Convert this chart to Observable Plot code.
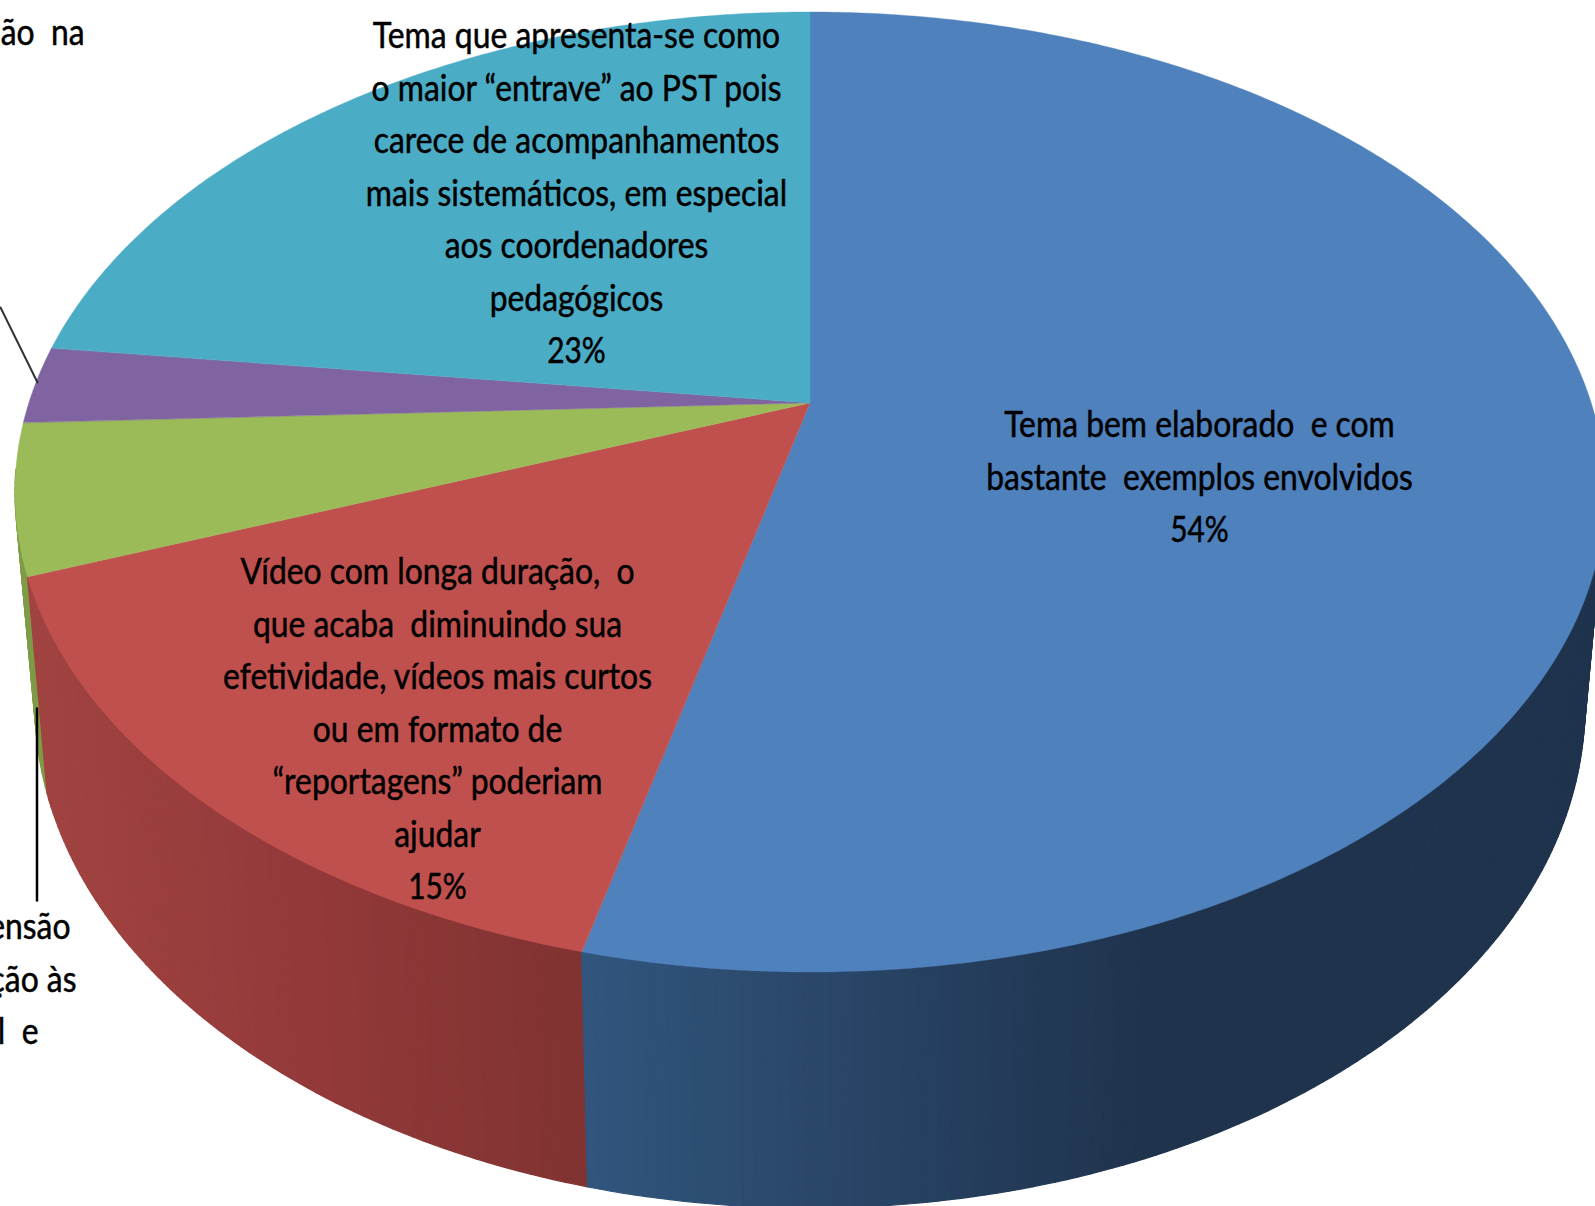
<!DOCTYPE html>
<html>
<head>
<meta charset="utf-8">
<style>html,body{margin:0;padding:0;background:#fff;overflow:hidden}</style>
<script src="https://cdn.jsdelivr.net/npm/d3@7"></script>
<script src="https://cdn.jsdelivr.net/npm/@observablehq/plot@0.6"></script>
</head>
<body>
<div id="chart"></div>
<script>
// Shares (clockwise from 12 o'clock)
const categories = ["Tema bem elaborado", "Vídeo com longa duração", "Compreensão", "Aplicação", "Entrave ao PST"];
const shares = [53.85, 15.45, 5.03, 2.6, 23.07];
const faceColors = ["#4F81BD", "#C0504D", "#9BBB59", "#8064A2", "#4BACC6"];

const blueLines = ["Tema bem elaborado  e com", "bastante  exemplos envolvidos", "54%"];
const redLines = ["Vídeo com longa duração,  o", "que acaba  diminuindo sua", "efetividade, vídeos mais curtos", "ou em formato de", "“reportagens” poderiam", "ajudar", "15%"];
const tealLines = ["Tema que apresenta-se como", "o maior “entrave” ao PST pois", "carece de acompanhamentos", "mais sistemáticos, em especial", "aos coordenadores", "pedagógicos", "23%"];
const cutTop = ["ão  na"];
const cutLower = ["ensão", "ção às", "l  e"];

// Perspective disc model: ellipse centre, radii, perspective factor
const persp = 0.1856;
const topFace = {cx: 810, E: 492, rx: 795, ry: 480};
const baseFace = {cx: 810, E: 705, rx: 775, ry: 503};
function project(f, deg) {
  const t = deg * Math.PI / 180, X = Math.sin(t), Y = Math.cos(t), w = 1 + persp * Y;
  const d = f.rx * Math.sqrt(1 - persp * persp), a = f.E - persp * f.ry, b = persp * f.E - f.ry;
  return [f.cx + d * X / w, (a + b * Y) / w];
}
const apex = [topFace.cx, topFace.E - persp * topFace.ry];

// Slice angle ranges
let acc = 0;
const ranges = shares.map((s, i) => {
  const r = {i, a0: acc * 3.6, a1: (acc + s) * 3.6};
  acc += s;
  return r;
});

// Top face rows: fan between apex and arc
const faceRows = [];
for (const r of ranges) {
  for (let a = r.a0; ; a += 0.5) {
    const aa = Math.min(a, r.a1), p = project(topFace, aa);
    faceRows.push({slice: r.i, x1: apex[0], y1: apex[1], x2: p[0], y2: p[1], color: faceColors[r.i]});
    if (aa >= r.a1) break;
  }
}

// Wall shading
const blueShade = d3.scaleLinear().domain([585, 1150]).range(["#31557D", "#1F334D"]).clamp(true);
const redShade = d3.scaleLinear().domain([40, 300, 585]).range(["#A04341", "#94393A", "#7F3331"]).clamp(true);
function wallColor(i, x) {
  if (i === 0) return blueShade(x);
  if (i === 1) return redShade(x);
  if (i === 2) return "#7F9B47";
  if (i === 3) return "#664F82";
  return "#3A8A9F";
}
// strips split on slice boundaries, painted from the sides towards the front
const stripEdges = [];
for (const r of ranges) {
  const from = Math.max(r.a0, 98), to = Math.min(r.a1, 262);
  if (to <= from) continue;
  const n = Math.ceil((to - from) / 0.75);
  for (let j = 0; j < n; j++) stripEdges.push({i: r.i, a0: from + (to - from) * j / n, a1: from + (to - from) * (j + 1) / n});
}
stripEdges.sort((p, q) => Math.abs(q.a0 + q.a1 - 360) - Math.abs(p.a0 + p.a1 - 360));
const wallRows = [];
stripEdges.forEach((s, k) => {
  const t0 = project(topFace, s.a0), t1 = project(topFace, s.a1), b0 = project(baseFace, s.a0), b1 = project(baseFace, s.a1);
  const color = wallColor(s.i, (t0[0] + t1[0]) / 2);
  wallRows.push({k, x1: t0[0], y1: t0[1], x2: b0[0], y2: b0[1], color});
  wallRows.push({k, x1: t1[0], y1: t1[1], x2: b1[0], y2: b1[1], color});
});

// Text
function block(lines, x, y, step = 52.55) {
  return lines.map((t, j) => ({t, x: Array.isArray(x) ? x[j] : x, y: y + j * step}));
}
const centred = [
  ...block(tealLines, 576, 36),
  ...block(blueLines, 1199, 425),
  ...block(redLines, 437, 572)
];
const leftCut = [...block(cutTop, 84, 33), ...block(cutLower, [70, 76, 38], 927)];
const textOpts = {text: "t", x: "x", y: "y", fill: "#000", fontFamily: "Lato, 'Open Sans', sans-serif", fontSize: 36, lineAnchor: "middle", stroke: "#000", strokeWidth: 0.5};

const chart = Plot.plot({
  width: 1595, height: 1206,
  margin: 0,
  style: {background: "#fff"},
  x: {domain: [0, 1595], range: [0, 1595], axis: null},
  y: {domain: [0, 1206], range: [0, 1206], axis: null},
  color: {type: "identity"},
  marks: [
    Plot.area(wallRows, {x1: "x1", y1: "y1", x2: "x2", y2: "y2", z: "k", fill: "color", stroke: "color", strokeWidth: 1.2, curve: "linear"}),
    Plot.area(faceRows, {x1: "x1", y1: "y1", x2: "x2", y2: "y2", z: "slice", fill: "color", stroke: "color", strokeWidth: 0.4, curve: "linear"}),
    Plot.line([[0, 307], [37, 382]], {stroke: "#333", strokeWidth: 2}),
    Plot.line([[36.5, 708], [36.5, 900]], {stroke: "#000", strokeWidth: 2.5}),
    Plot.text(centred, {...textOpts, textAnchor: "middle"}),
    Plot.text(leftCut, {...textOpts, textAnchor: "end"})
  ]
});
document.getElementById("chart").appendChild(chart);
// narrow the glyphs to the reference's condensed look
function condense() {
  chart.querySelectorAll("text").forEach(t => {
    t.removeAttribute("textLength");
    const ratio = /%$/.test(t.textContent) ? 0.83 : 0.885;
    t.setAttribute("textLength", t.getComputedTextLength() * ratio);
    t.setAttribute("lengthAdjust", "spacingAndGlyphs");
  });
}
condense();
if (document.fonts && document.fonts.ready) document.fonts.ready.then(condense);
</script>
</body>
</html>
